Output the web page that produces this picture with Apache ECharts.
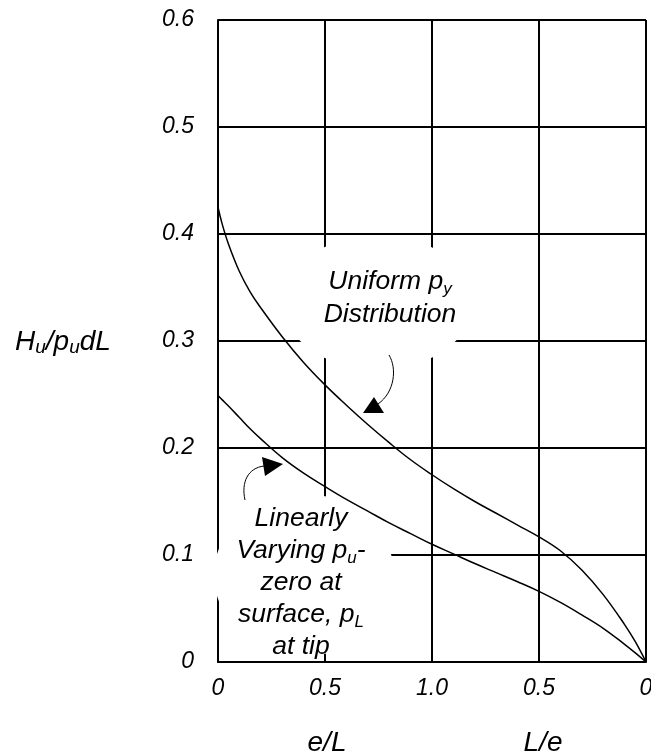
<!DOCTYPE html>
<html>
<head>
<meta charset="utf-8">
<script src="https://cdn.jsdelivr.net/npm/echarts@6/dist/echarts.min.js"></script>
<style>
  html, body { margin: 0; padding: 0; background: #fff; overflow: hidden; }
  #chart { width: 651px; height: 753px; }
</style>
</head>
<body>
<div id="chart"></div>
<script>
// Composite abscissa: 0..1 is e/L, 1..2 is L/e running back from 1 to 0
const xValues = [0, 0.02, 0.05, 0.1, 0.15, 0.2, 0.3, 0.4, 0.5, 0.6, 0.7, 0.8, 0.9, 1.0,
                 1.1, 1.2, 1.3, 1.4, 1.5, 1.6, 1.7, 1.8, 1.9, 1.95, 2.0];
// Hu / (pu d L) for a uniform py distribution
const uniformValues = [0.425, 0.409, 0.390, 0.365, 0.346, 0.331, 0.304, 0.280, 0.259, 0.240,
                       0.222, 0.205, 0.189, 0.175, 0.162, 0.150, 0.139, 0.128, 0.117, 0.104,
                       0.086, 0.063, 0.035, 0.019, 0];
// Hu / (pu d L) for pressure varying linearly from zero at surface to pL at tip
const linearValues = [0.249, 0.245, 0.239, 0.2285, 0.218, 0.2085, 0.191, 0.1765, 0.164, 0.152,
                      0.141, 0.130, 0.120, 0.110, 0.101, 0.092, 0.0835, 0.075, 0.066, 0.0557,
                      0.044, 0.0315, 0.0165, 0.0085, 0];
const xTickLabels = ['0', '0.5', '1.0', '0.5', '0'];
const yTickLabels = ['0', '0.1', '0.2', '0.3', '0.4', '0.5', '0.6'];

const FONT = '"Liberation Sans", Arial, Helvetica, sans-serif';

const pairs = vals => xValues.map((x, i) => [x, vals[i]]);

const chart = echarts.init(document.getElementById('chart'), null, { renderer: 'canvas' });

const italic = (size) => ({ fontSize: size, fontStyle: 'italic', fontFamily: FONT, color: '#000' });

const richBase = (size, sub, lh) => ({
  n: { fontSize: size, fontStyle: 'italic', fontFamily: FONT, fill: '#000', lineHeight: lh },
  s: { fontSize: sub, fontStyle: 'italic', fontFamily: FONT, fill: '#000', lineHeight: lh,
       verticalAlign: 'bottom' }
});

const option = {
  backgroundColor: '#fff',
  animation: false,
  grid: { left: 218, top: 20, width: 428, height: 642, containLabel: false, outerBoundsMode: 'none' },
  xAxis: {
    type: 'value', min: 0, max: 2, interval: 0.5,
    axisLine: { show: true, onZero: false, lineStyle: { color: '#000', width: 2 } },
    axisTick: { show: false },
    splitLine: { show: true, lineStyle: { color: '#000', width: 2 } },
    axisLabel: {
      ...italic(23), margin: 15,
      formatter: (v) => xTickLabels[Math.round(v / 0.5)],
      showMinLabel: true, showMaxLabel: true, hideOverlap: false
    }
  },
  yAxis: {
    type: 'value', min: 0, max: 0.6, interval: 0.1,
    axisLine: { show: true, onZero: false, lineStyle: { color: '#000', width: 2 } },
    axisTick: { show: false },
    splitLine: { show: true, lineStyle: { color: '#000', width: 2 } },
    axisLabel: {
      ...italic(23), margin: 24,
      formatter: (v) => yTickLabels[Math.round(v / 0.1)]
    }
  },
  series: [
    {
      name: 'Uniform', type: 'line', data: pairs(uniformValues),
      smooth: 0.4, showSymbol: false, z: 5,
      lineStyle: { color: '#000', width: 1.5 }
    },
    {
      name: 'Linear', type: 'line', data: pairs(linearValues),
      smooth: 0.4, showSymbol: false, z: 5,
      lineStyle: { color: '#000', width: 1.5 }
    }
  ],
  graphic: [
    // white callout clouds behind the annotation text
    { type: 'ellipse', z: 1, silent: true,
      shape: { cx: 378, cy: 302.5, rx: 95, ry: 67 }, style: { fill: '#fff' } },
    { type: 'ellipse', z: 1, silent: true,
      shape: { cx: 304, cy: 575, rx: 90, ry: 81 }, style: { fill: '#fff' } },
    // annotation arrows
    { type: 'bezierCurve', z: 10, silent: true,
      shape: { x1: 389, y1: 355, cpx1: 397, cpy1: 368, cpx2: 395, cpy2: 392, x2: 378, y2: 404 },
      style: { stroke: '#000', lineWidth: 1, fill: null } },
    { type: 'polygon', z: 10, silent: true,
      shape: { points: [[374, 397], [363, 413], [384, 413]] }, style: { fill: '#000' } },
    { type: 'bezierCurve', z: 10, silent: true,
      shape: { x1: 245, y1: 500, cpx1: 241, cpy1: 482, cpx2: 248, cpy2: 468, x2: 264, y2: 466 },
      style: { stroke: '#000', lineWidth: 1, fill: null } },
    { type: 'polygon', z: 10, silent: true,
      shape: { points: [[262, 457], [283, 464], [265, 476]] }, style: { fill: '#000' } },
    // annotation text
    { type: 'text', z: 10, silent: true, x: 390, y: 298,
      style: {
        text: '{n|Uniform p}{s|y}\n{n|Distribution}',
        align: 'center', verticalAlign: 'middle',
        rich: richBase(26.5, 17, 33)
      } },
    { type: 'text', z: 10, silent: true, x: 301, y: 583,
      style: {
        text: '{n|Linearly}\n{n|Varying p}{s|u}{n|-}\n{n|zero at}\n{n|surface, p}{s|L}\n{n|at tip}',
        align: 'center', verticalAlign: 'middle',
        rich: richBase(26.5, 17, 32)
      } },
    // axis titles
    { type: 'text', z: 10, silent: true, x: 15, y: 342,
      style: {
        text: '{n|H}{s|u}{n|/p}{s|u}{n|dL}',
        align: 'left', verticalAlign: 'middle',
        rich: richBase(28, 19, 30)
      } },
    { type: 'text', z: 10, silent: true, x: 327, y: 743,
      style: { text: 'e/L', align: 'center', verticalAlign: 'middle',
               font: 'italic 28px ' + FONT, fill: '#000' } },
    { type: 'text', z: 10, silent: true, x: 543, y: 743,
      style: { text: 'L/e', align: 'center', verticalAlign: 'middle',
               font: 'italic 28px ' + FONT, fill: '#000' } }
  ]
};

chart.setOption(option);
</script>
</body>
</html>
